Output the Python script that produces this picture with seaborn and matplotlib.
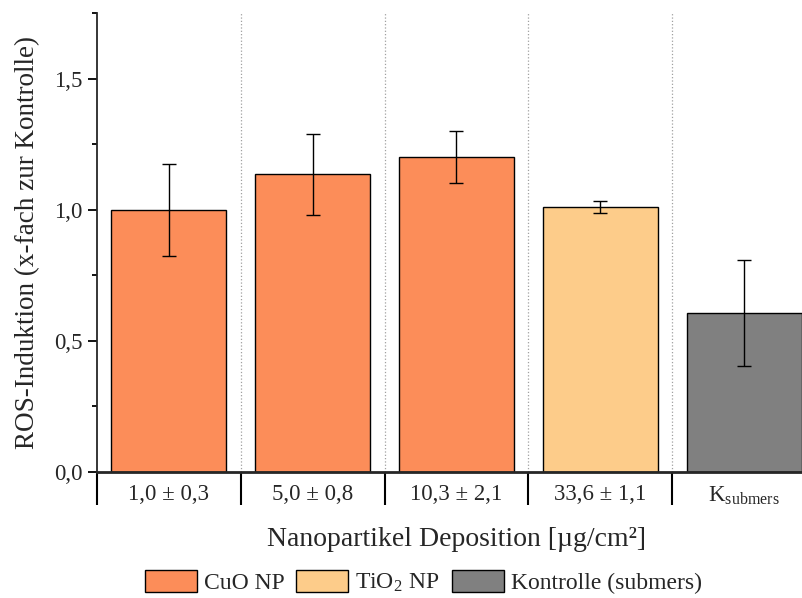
import numpy as np
import pandas as pd
import matplotlib
matplotlib.use("Agg")
import matplotlib.pyplot as plt
from matplotlib.patches import Patch
from matplotlib.ticker import FuncFormatter, MultipleLocator
import seaborn as sns

# Data
categories = ["1,0 ± 0,3", "5,0 ± 0,8", "10,3 ± 2,1", "33,6 ± 1,1", r"K$_{\mathregular{submers}}$"]
groups = ["CuO NP", "CuO NP", "CuO NP", r"TiO$_{\mathregular{2}}$ NP", "Kontrolle (submers)"]
values = [1.0, 1.135, 1.20, 1.01, 0.606]
errors = [0.175, 0.154, 0.099, 0.022, 0.202]
group_colors = {"CuO NP": "#FC8D59", r"TiO$_{\mathregular{2}}$ NP": "#FDCC8A",
                "Kontrolle (submers)": "#808080"}

sns.set_style("ticks")
plt.rcParams["font.family"] = ["Liberation Serif", "DejaVu Serif"]
plt.rcParams["mathtext.fontset"] = "stix"

df = pd.DataFrame({"cat": categories, "grp": groups, "val": values})

fig = plt.figure(figsize=(8.02, 5.98), dpi=100)
ax = fig.add_axes([97 / 802, 1 - 472 / 598, (816 - 97) / 802, (472 - 13) / 598])

sns.barplot(data=df, x="cat", y="val", hue="grp", palette=group_colors, dodge=False,
            order=categories, width=0.8, saturation=1, edgecolor="black", linewidth=1.0,
            legend=False, ax=ax, zorder=2)
ax.errorbar(np.arange(len(values)), values, yerr=errors, fmt="none", ecolor="black",
            elinewidth=1.0, capsize=5, capthick=1.0, zorder=3)

# Category separators
for b in np.arange(0.5, len(categories) - 0.5, 1):
    ax.axvline(b, color="#a0a0a0", linestyle=":", linewidth=0.9, zorder=1)

ax.set_xlim(-0.5, len(categories) - 0.5)
ax.set_ylim(0, 1.75)
ax.yaxis.set_major_locator(MultipleLocator(0.5))
ax.yaxis.set_minor_locator(MultipleLocator(0.25))
ax.yaxis.set_major_formatter(FuncFormatter(lambda v, p: f"{v:.1f}".replace(".", ",")))

ax.set_xticks(np.arange(len(categories)))
ax.set_xticklabels(categories)
ax.set_xticks(np.arange(-0.5, len(categories) - 0.5, 1), minor=True)
ax.tick_params(axis="x", which="major", length=0, pad=9, labelsize=16.5)
ax.tick_params(axis="x", which="minor", length=24, width=1.5, direction="out", color="black")
ax.tick_params(axis="y", which="major", length=6.5, width=1.3, pad=4, labelsize=16.5, color="black")
ax.tick_params(axis="y", which="minor", length=3.5, width=1.3, color="black")

for side in ["top", "right"]:
    ax.spines[side].set_visible(False)
ax.spines["left"].set_linewidth(1.3)
ax.spines["bottom"].set_linewidth(2.0)

ax.set_xlabel("Nanopartikel Deposition [µg/cm²]", fontsize=20, labelpad=12)
ax.set_ylabel("ROS-Induktion (x-fach zur Kontrolle)", fontsize=19.5, labelpad=10)

handles = [Patch(facecolor=c, edgecolor="black", linewidth=1.0) for c in group_colors.values()]
fig.legend(handles, list(group_colors.keys()), loc="center", bbox_to_anchor=(0.528, 0.027),
           ncol=3, frameon=False, fontsize=17, handlelength=2.2, handleheight=1.05,
           handletextpad=0.3, columnspacing=0.5, borderpad=0.1)

fig.savefig("out.png", dpi=100)
